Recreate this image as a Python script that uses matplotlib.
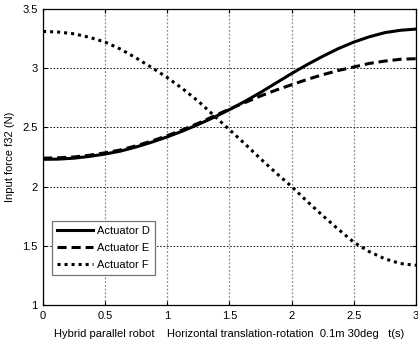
import numpy as np
import matplotlib
matplotlib.use('Agg')
import matplotlib.pyplot as plt

# time samples (s)
t = [0, 0.125, 0.25, 0.375, 0.5, 0.625, 0.75, 0.875, 1.0, 1.125, 1.25, 1.375, 1.5,
     1.625, 1.75, 1.875, 2.0, 2.125, 2.25, 2.375, 2.5, 2.625, 2.75, 2.875, 3.0]

# input force f32 (N)
actuator_d = [2.23, 2.232, 2.24, 2.255, 2.275, 2.30, 2.335, 2.375, 2.42, 2.47, 2.525, 2.585, 2.65,
              2.72, 2.795, 2.875, 2.955, 3.03, 3.10, 3.165, 3.22, 3.265, 3.30, 3.32, 3.33]
actuator_e = [2.24, 2.243, 2.25, 2.265, 2.285, 2.31, 2.345, 2.385, 2.43, 2.48, 2.535, 2.595, 2.655,
              2.71, 2.765, 2.815, 2.86, 2.905, 2.945, 2.98, 3.01, 3.04, 3.06, 3.075, 3.08]
actuator_f = [3.31, 3.305, 3.29, 3.26, 3.22, 3.16, 3.085, 3.005, 2.92, 2.825, 2.72, 2.60, 2.48,
              2.36, 2.235, 2.115, 2.0, 1.875, 1.755, 1.64, 1.53, 1.45, 1.39, 1.35, 1.335]

x_ticks = [0, 0.5, 1, 1.5, 2, 2.5, 3]
x_labels = ['0', '0.5', '1', '1.5', '2', '2.5', '3']
y_ticks = [1, 1.5, 2, 2.5, 3, 3.5]
y_labels = ['1', '1.5', '2', '2.5', '3', '3.5']

plt.rcParams['font.family'] = ['Liberation Sans', 'DejaVu Sans']
plt.rcParams['font.size'] = 8

fig = plt.figure(figsize=(4.18, 3.45), dpi=100)
ax = fig.add_axes([0.103, 0.116, 0.892, 0.858])

ax.plot(t, actuator_d, color='black', linestyle='-', linewidth=2.2, label='Actuator D')
ax.plot(t, actuator_e, color='black', linestyle=(0, (3, 1.6)), linewidth=2.2, label='Actuator E')
ax.plot(t, actuator_f, color='black', linestyle=(0, (1, 1.3)), linewidth=2.2, label='Actuator F')

ax.set_xlim(0, 3)
ax.set_ylim(1, 3.5)
ax.set_xticks(x_ticks)
ax.set_xticklabels(x_labels)
ax.set_yticks(y_ticks)
ax.set_yticklabels(y_labels)
ax.tick_params(direction='in', length=3, width=0.8, top=True, right=True)
ax.tick_params(axis='x', pad=4)
ax.tick_params(axis='y', pad=4)

# MATLAB-ish grid: gray dotted verticals, black dashed horizontals
ax.xaxis.grid(True, color='0.55', linestyle=(0, (1.5, 1.5)), linewidth=0.9)
ax.yaxis.grid(True, color='black', linestyle=(0, (2, 2)), linewidth=0.6)
ax.set_axisbelow(True)
for s in ax.spines.values():
    s.set_linewidth(0.9)

ax.set_xlabel('Hybrid parallel robot    Horizontal translation-rotation  0.1m 30deg   t(s)',
              labelpad=6)
ax.set_ylabel('Input force f32 (N)', labelpad=5)

leg = ax.legend(loc='lower left', bbox_to_anchor=(0.024, 0.101), fancybox=False,
                edgecolor='0.45', framealpha=1, handlelength=3.2, borderpad=0.45,
                labelspacing=0.62, handletextpad=0.4, borderaxespad=0)
leg.get_frame().set_linewidth(0.9)

fig.savefig('out.png', dpi=100)
